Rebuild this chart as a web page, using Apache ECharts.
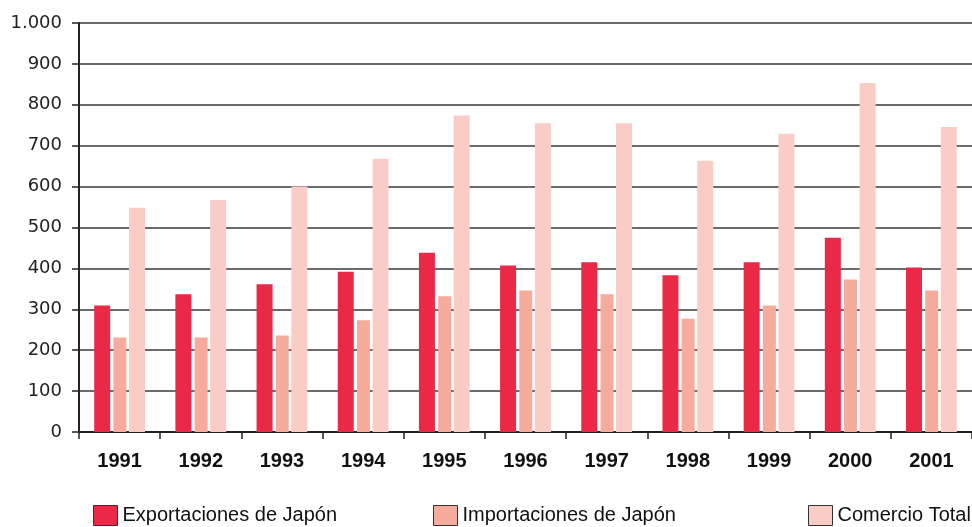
<!DOCTYPE html>
<html>
<head>
<meta charset="utf-8">
<script src="https://cdn.jsdelivr.net/npm/echarts@6/dist/echarts.min.js"></script>
<style>html,body{margin:0;padding:0;background:#fff;}#c{width:972px;height:527px;}</style>
</head>
<body>
<div id="c"></div>
<script>
const years = ['1991','1992','1993','1994','1995','1996','1997','1998','1999','2000','2001'];
const exportaciones = [309, 337, 361, 392, 438, 407, 415, 383, 415, 475, 402];
const importaciones = [231, 231, 236, 273, 332, 346, 337, 277, 309, 373, 346];
const comercioTotal = [548, 567, 600, 668, 774, 755, 755, 663, 729, 853, 746];
const seriesNames = ['Exportaciones de Japón', 'Importaciones de Japón', 'Comercio Total'];
const colors = ['#EA2946', '#F6AB9D', '#F9CDC5'];

const chart = echarts.init(document.getElementById('c'), null, {renderer: 'canvas'});
const legendTextStyle = {fontFamily: 'Liberation Sans', fontSize: 20, color: '#111'};
function legendFor(name, left) {
  return {
    data: [name], left: left, top: 500, itemWidth: 24, itemHeight: 20, itemGap: 0,
    icon: 'rect', textStyle: legendTextStyle, selectedMode: false,
    itemStyle: {borderColor: '#333', borderWidth: 1}
  };
}
const bar = (name, data, color, w) => ({
  name: name, type: 'bar', data: data, barWidth: w, barGap: '20%',
  itemStyle: {color: color},
  emphasis: {disabled: true}
});
chart.setOption({
  animation: false,
  backgroundColor: '#fff',
  grid: {left: 79, top: 23, width: 899, height: 409},
  legend: [legendFor(seriesNames[0], 88), legendFor(seriesNames[1], 428), legendFor(seriesNames[2], 803)],
  xAxis: {
    type: 'category', data: years,
    axisLine: {lineStyle: {color: '#222', width: 2}},
    axisTick: {show: true, length: 7, lineStyle: {color: '#222', width: 1.5}},
    axisLabel: {margin: 19, fontFamily: 'Liberation Sans', fontWeight: 'bold', fontSize: 20, color: '#111'}
  },
  yAxis: {
    type: 'value', min: 0, max: 1000, interval: 100,
    axisLine: {show: true, lineStyle: {color: '#222', width: 2}},
    axisTick: {show: true, length: 7, lineStyle: {color: '#222', width: 1.5}},
    axisLabel: {
      margin: 17, fontFamily: 'DejaVu Sans', fontSize: 18, color: '#222',
      formatter: v => v >= 1000 ? String(v).replace(/\B(?=(\d{3})+(?!\d))/g, '.') : String(v)
    },
    splitLine: {lineStyle: {color: '#3a3a3a', width: 1.5}}
  },
  series: [
    bar(seriesNames[0], exportaciones, colors[0], 16),
    bar(seriesNames[1], importaciones, colors[1], 13),
    bar(seriesNames[2], comercioTotal, colors[2], 16)
  ]
});
</script>
</body>
</html>
